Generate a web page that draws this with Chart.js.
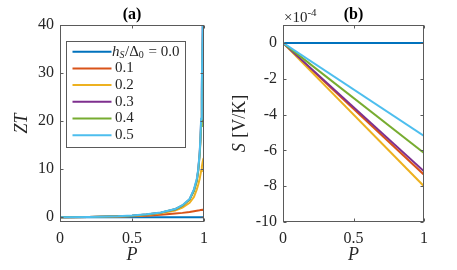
<!DOCTYPE html>
<html>
<head>
<meta charset="utf-8">
<script src="https://cdn.jsdelivr.net/npm/chart.js@4/dist/chart.umd.min.js"></script>
<style>
  html, body { margin: 0; padding: 0; background: #ffffff; }
  #wrap { position: relative; width: 457px; height: 270px; overflow: hidden; background: #fff; }
  canvas { position: absolute; top: 0; }
  #ca { left: 0; }
  #cb { left: 228px; }
</style>
</head>
<body>
<div id="wrap">
  <canvas id="ca" width="228" height="270"></canvas>
  <canvas id="cb" width="229" height="270"></canvas>
</div>
<script>
// ---------------- data ----------------
const SERIES_LABELS = ['0.0', '0.1', '0.2', '0.3', '0.4', '0.5'];
const SERIES_COLORS = ['#0072BD', '#D95319', '#EDB120', '#7E2F8E', '#77AC30', '#4DBEEE'];

// Panel (a): ZT vs P
const P_ZT  = [0, 0.2, 0.4, 0.5, 0.6, 0.7, 0.8, 0.85, 0.9, 0.93, 0.95, 0.96, 0.97, 0.975, 0.98, 0.985, 0.99, 0.995, 1.0];
const ZT_00 = [0, 0, 0, 0, 0, 0, 0, 0, 0, 0, 0, 0, 0, 0, 0, 0, 0, 0, 0];
const ZT_01 = [0, 0.03, 0.12, 0.2, 0.3, 0.5, 0.75, 0.9, 1.1, 1.25, 1.35, 1.4, 1.45, 1.48, 1.5, 1.52, 1.55, 1.57, 1.6];
const ZT_02 = [0, 0.04, 0.15, 0.27, 0.45, 0.8, 1.4, 2.0, 3.0, 4.2, 5.8, 6.8, 8.0, 8.8, 9.6, 10.5, 11.4, 12.1, 12.4];
const ZT_03 = [0, 0.05, 0.18, 0.32, 0.55, 0.95, 1.65, 2.4, 3.7, 5.6, 7.7, 9.8, 13.3, 16.0, 20.0, 27.0, 37.0, 48.0, 62.0];
const ZT_04 = [0, 0.05, 0.18, 0.32, 0.55, 0.95, 1.65, 2.4, 3.7, 5.5, 7.6, 9.6, 13.0, 15.5, 19.0, 25.0, 34.5, 41.0, 50.0];
const ZT_05 = [0, 0.05, 0.2, 0.35, 0.6, 1.0, 1.7, 2.5, 3.8, 5.8, 8.0, 10.0, 13.5, 16.5, 20.5, 28.0, 38.0, 50.0, 65.0];
const ZT_X_TICKS = [0, 0.5, 1];
const ZT_Y_TICKS = [0, 10, 20, 30, 40];

// Panel (b): S vs P, in units of 1e-4 V/K
const P_S  = [0, 1];
const S_00 = [0, 0];
const S_01 = [0, -7.36];
const S_02 = [0, -8.0];
const S_03 = [0, -7.17];
const S_04 = [0, -6.15];
const S_05 = [0, -5.2];
const S_X_TICKS = [0, 0.5, 1];
const S_Y_TICKS = [-10, -8, -6, -4, -2, 0];

// ---------------- helpers ----------------
const SERIF = "'Liberation Serif', 'Times New Roman', serif";
const AX = '#262626';
const FRAME = '#5a5a5a';
const TICK_SIZE = 16;

function mkSets(xs, ysList) {
  return ysList.map((ys, i) => ({
    label: SERIES_LABELS[i],
    data: xs.map((x, k) => ({ x: x, y: ys[k] })),
    borderColor: SERIES_COLORS[i],
    backgroundColor: SERIES_COLORS[i],
    borderWidth: 2,
    pointRadius: 0,
    tension: 0,
    fill: false,
    order: ysList.length - i
  }));
}

function scalesFor(xTicks, yTicks, yMin, yMax, yWidth) {
  return {
    x: {
      type: 'linear', min: 0, max: 1,
      afterBuildTicks: s => { s.ticks = xTicks.map(v => ({ value: v })); },
      afterFit: s => { s.height = 48; },
      grid: { display: false, drawTicks: false },
      border: { display: false },
      ticks: { padding: 7, color: AX, font: { family: SERIF, size: TICK_SIZE }, maxRotation: 0,
               callback: v => String(v) }
    },
    y: {
      type: 'linear', min: yMin, max: yMax,
      afterBuildTicks: s => { s.ticks = yTicks.map(v => ({ value: v })); },
      afterFit: s => { s.width = yWidth; },
      grid: { display: false, drawTicks: false },
      border: { display: false },
      ticks: { padding: 6, color: AX, font: { family: SERIF, size: TICK_SIZE },
               callback: v => String(v) }
    }
  };
}

function drawFrame(chart) {
  const ctx = chart.ctx, a = chart.chartArea;
  const xs = chart.scales.x, ys = chart.scales.y;
  const L = Math.round(a.left) + 0.5, R = Math.round(a.right) - 0.5;
  const T = Math.round(a.top) + 0.5, B = Math.round(a.bottom) - 0.5;
  ctx.save();
  ctx.strokeStyle = FRAME; ctx.lineWidth = 1;
  ctx.strokeRect(L, T, R - L, B - T);
  const tl = 3;
  ctx.beginPath();
  xs.ticks.forEach(t => {
    const px = Math.round(xs.getPixelForValue(t.value)) + 0.5;
    ctx.moveTo(px, B); ctx.lineTo(px, B - tl);
    ctx.moveTo(px, T); ctx.lineTo(px, T + tl);
  });
  ys.ticks.forEach(t => {
    const py = Math.round(ys.getPixelForValue(t.value)) + 0.5;
    ctx.moveTo(L, py); ctx.lineTo(L + tl, py);
    ctx.moveTo(R, py); ctx.lineTo(R - tl, py);
  });
  ctx.stroke();
  ctx.restore();
}

function drawTitle(chart, text) {
  const ctx = chart.ctx, a = chart.chartArea;
  ctx.save();
  ctx.fillStyle = '#000';
  ctx.font = 'bold 16px ' + SERIF;
  ctx.textAlign = 'center'; ctx.textBaseline = 'alphabetic';
  ctx.fillText(text, (a.left + a.right) / 2, 19);
  ctx.restore();
}

function drawXLabel(chart) {
  const ctx = chart.ctx, a = chart.chartArea;
  ctx.save();
  ctx.fillStyle = AX;
  ctx.font = 'italic 18px ' + SERIF;
  ctx.textAlign = 'center'; ctx.textBaseline = 'middle';
  ctx.fillText('P', (a.left + a.right) / 2, 255);
  ctx.restore();
}

// ---------------- panel (a) ----------------
const pluginA = {
  id: 'decorA',
  afterDraw(chart) {
    const ctx = chart.ctx, a = chart.chartArea;
    drawFrame(chart);
    drawTitle(chart, '(a)');
    drawXLabel(chart);
    // y label ZT
    ctx.save();
    ctx.fillStyle = AX;
    ctx.translate(22, (a.top + a.bottom) / 2);
    ctx.rotate(-Math.PI / 2);
    ctx.font = 'italic 18px ' + SERIF;
    ctx.textAlign = 'center'; ctx.textBaseline = 'middle';
    ctx.fillText('ZT', 0, 0);
    ctx.restore();
    // legend
    ctx.save();
    const bx = 66.5, by = 41.5, bw = 119, bh = 106;
    ctx.fillStyle = '#fff';
    ctx.fillRect(bx, by, bw, bh);
    ctx.strokeStyle = FRAME; ctx.lineWidth = 1;
    ctx.strokeRect(bx, by, bw, bh);
    const y0 = 51.7, dy = 16.7;
    chart.data.datasets.forEach((ds, i) => {
      const y = y0 + i * dy;
      ctx.strokeStyle = ds.borderColor; ctx.lineWidth = 2;
      ctx.beginPath(); ctx.moveTo(72.5, y); ctx.lineTo(111.5, y); ctx.stroke();
      ctx.fillStyle = AX;
      ctx.textAlign = 'left'; ctx.textBaseline = 'middle';
      let x = 112;
      if (i === 0) {
        ctx.font = 'italic 15px ' + SERIF;
        ctx.fillText('h', x, y); x += ctx.measureText('h').width;
        ctx.font = 'italic 10px ' + SERIF;
        ctx.fillText('S', x, y + 4); x += ctx.measureText('S').width + 0.5;
        ctx.font = '15px ' + SERIF;
        ctx.fillText('/\u0394', x, y); x += ctx.measureText('/\u0394').width;
        ctx.font = '10px ' + SERIF;
        ctx.fillText('0', x, y + 4); x += ctx.measureText('0').width + 1;
        ctx.font = '15px ' + SERIF;
        ctx.fillText(' = ' + ds.label, x, y);
      } else {
        ctx.font = '15px ' + SERIF;
        ctx.fillText(ds.label, x + 3, y);
      }
    });
    ctx.restore();
  }
};

new Chart(document.getElementById('ca'), {
  type: 'line',
  data: { datasets: mkSets(P_ZT, [ZT_00, ZT_01, ZT_02, ZT_03, ZT_04, ZT_05]) },
  options: {
    responsive: false, animation: false, devicePixelRatio: 1,
    layout: { padding: { left: 0, top: 25, right: 24, bottom: 0 } },
    plugins: { legend: { display: false }, tooltip: { enabled: false }, title: { display: false } },
    scales: scalesFor(ZT_X_TICKS, ZT_Y_TICKS, -1, 40, 60)
  },
  plugins: [pluginA]
});

// ---------------- panel (b) ----------------
const pluginB = {
  id: 'decorB',
  afterDraw(chart) {
    const ctx = chart.ctx, a = chart.chartArea;
    drawFrame(chart);
    drawTitle(chart, '(b)');
    drawXLabel(chart);
    // exponent
    ctx.save();
    ctx.fillStyle = AX;
    ctx.textAlign = 'left'; ctx.textBaseline = 'alphabetic';
    ctx.font = '15px ' + SERIF;
    let x = a.left + 1;
    ctx.fillText('\u00d710', x, 22); x += ctx.measureText('\u00d710').width;
    ctx.font = '11px ' + SERIF;
    ctx.fillText('-4', x, 16);
    ctx.restore();
    // y label
    ctx.save();
    ctx.fillStyle = AX;
    ctx.translate(12, (a.top + a.bottom) / 2);
    ctx.rotate(-Math.PI / 2);
    ctx.textBaseline = 'middle'; ctx.textAlign = 'left';
    ctx.font = 'italic 18px ' + SERIF;
    const w1 = ctx.measureText('S').width + 1;
    ctx.font = '18px ' + SERIF;
    const s2 = ' [V/K]';
    const w2 = ctx.measureText(s2).width;
    const sx = -(w1 + w2) / 2;
    ctx.font = 'italic 18px ' + SERIF;
    ctx.fillText('S', sx, 0);
    ctx.font = '18px ' + SERIF;
    ctx.fillText(s2, sx + w1, 0);
    ctx.restore();
  }
};

new Chart(document.getElementById('cb'), {
  type: 'line',
  data: { datasets: mkSets(P_S, [S_00, S_01, S_02, S_03, S_04, S_05]) },
  options: {
    responsive: false, animation: false, devicePixelRatio: 1,
    layout: { padding: { left: 0, top: 25, right: 33, bottom: 0 } },
    plugins: { legend: { display: false }, tooltip: { enabled: false }, title: { display: false } },
    scales: scalesFor(S_X_TICKS, S_Y_TICKS, -10, 1, 55)
  },
  plugins: [pluginB]
});
</script>
</body>
</html>
